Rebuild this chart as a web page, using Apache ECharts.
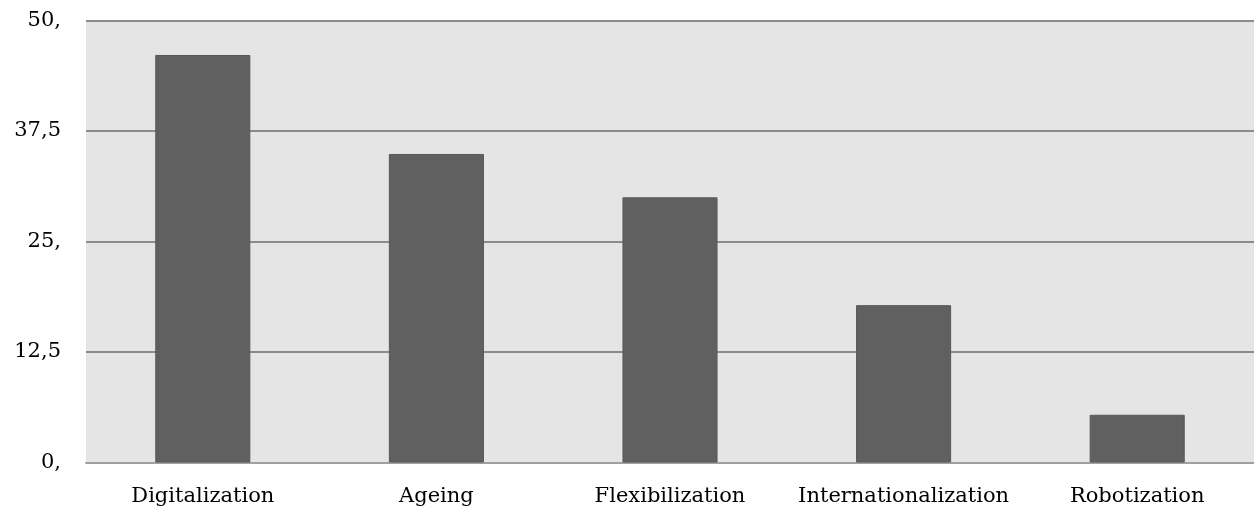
<!DOCTYPE html>
<html><head><meta charset="utf-8">
<script src="https://cdn.jsdelivr.net/npm/echarts@6/dist/echarts.min.js"></script>
<style>html,body{margin:0;padding:0;background:#fff}#c{width:1254px;height:514px}</style>
</head><body><div id="c"></div>
<script>
const categories = ["Digitalization", "Ageing", "Flexibilization", "Internationalization", "Robotization"];
const values = [46.1, 34.9, 30.0, 17.8, 5.4];
const tickValues = [0, 12.5, 25, 37.5, 50];
const tickLabels = ["0,", "12,5", "25,", "37,5", "50,"];

const chart = echarts.init(document.getElementById('c'), null, {renderer: 'canvas'});
const font = 'DejaVu Serif';
chart.setOption({
  animation: false,
  grid: {left: 86, right: 0, top: 20.5, bottom: 51.5, show: true, backgroundColor: '#e5e5e5', borderWidth: 0},
  xAxis: {
    type: 'category', data: categories,
    axisLine: {show: true, lineStyle: {color: '#a0a0a0', width: 2}},
    axisTick: {show: false},
    axisLabel: {color: '#000', fontFamily: font, fontSize: 21, margin: 24, interval: 0, hideOverlap: false}
  },
  yAxis: {
    type: 'value', min: 0, max: 50, interval: 12.5,
    axisLine: {show: false}, axisTick: {show: false},
    splitLine: {lineStyle: {color: '#8c8c8c', width: 2}},
    axisLabel: {color: '#000', fontFamily: font, fontSize: 21, margin: 25,
      formatter: v => { const i = tickValues.indexOf(v); return i >= 0 ? tickLabels[i] : ''; }}
  },
  series: [{
    type: 'bar', data: values, barWidth: '40.7%',
    itemStyle: {color: '#606060', borderColor: '#585858', borderWidth: 1}
  }]
});
</script></body></html>
